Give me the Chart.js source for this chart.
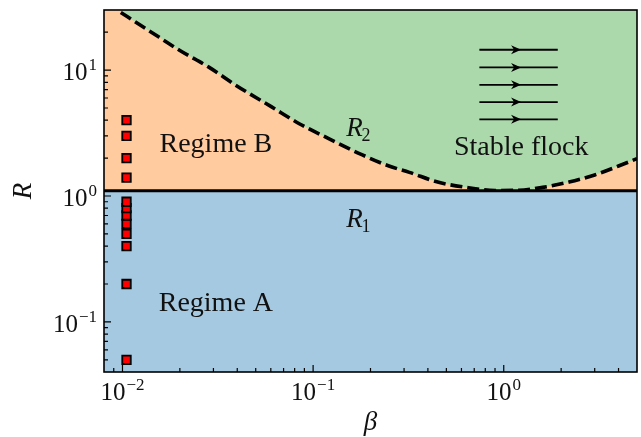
<!DOCTYPE html>
<html>
<head>
<meta charset="utf-8">
<script src="https://cdn.jsdelivr.net/npm/chart.js@4.4.1/dist/chart.umd.min.js"></script>
<style>
  html, body { margin: 0; padding: 0; background: #fff; }
</style>
</head>
<body>
<canvas id="chart" width="641" height="437"></canvas>
<script>
// axis limits
const xRange = [0.008, 5];
const yRange = [0.04, 30];

// R1: horizontal boundary
const r1Value = 1.1;

// R2: dashed boundary
const r2Beta = [0.0098, 0.0125, 0.0156, 0.02, 0.0285, 0.04, 0.06, 0.0846, 0.12, 0.18, 0.25, 0.32, 0.45, 0.635, 0.9, 1.2, 1.6, 2.2, 3.0, 4.0, 5.0];
const r2Values = [28.7, 22.6, 18.2, 14.3, 10.5, 7.45, 5.15, 3.75, 2.87, 2.13, 1.73, 1.54, 1.29, 1.17, 1.105, 1.11, 1.17, 1.29, 1.47, 1.73, 1.98];

// red squares (simulation runs)
const sampleBeta = 0.0105;
const sampleR = [0.05, 0.2, 0.4, 0.5, 0.6, 0.7, 0.8, 0.9, 1.4, 2, 3, 4];

// tick labels
const xTicks = [0.01, 0.1, 1];
const xTickExp = ["\u22122", "\u22121", "0"];
const yTicks = [0.1, 1, 10];
const yTickExp = ["\u22121", "0", "1"];

// flock arrows (beta span and R of each arrow)
const arrowBeta = [0.745, 1.92];
const arrowR = [14.5, 10.5, 7.64, 5.57, 4.06];

const blue = "#a5c9e1";
const orange = "#ffcb9f";
const green = "#abd9ab";
const serif = "'Liberation Serif', 'DejaVu Serif', serif";

function minorTicks(min, max) {
  const out = [];
  for (let e = Math.floor(Math.log10(min)); e <= Math.ceil(Math.log10(max)); e++) {
    for (let k = 1; k < 10; k++) {
      const v = k * Math.pow(10, e);
      if (v > min * 1.001 && v < max * 0.999) out.push({ v, major: k === 1 });
    }
  }
  return out;
}

const decorations = {
  id: "decorations",
  afterDatasetsDraw(chart) {
    const { ctx, chartArea: a, scales: { x, y } } = chart;
    ctx.save();
    ctx.strokeStyle = "#000";
    ctx.fillStyle = "#111";

    // inward ticks
    ctx.lineWidth = 1.2;
    ctx.beginPath();
    minorTicks(xRange[0], xRange[1]).forEach(t => {
      const px = x.getPixelForValue(t.v);
      ctx.moveTo(px, a.bottom);
      ctx.lineTo(px, a.bottom - (t.major ? 7 : 4));
    });
    minorTicks(yRange[0], yRange[1]).forEach(t => {
      const py = y.getPixelForValue(t.v);
      ctx.moveTo(a.left, py);
      ctx.lineTo(a.left + (t.major ? 7 : 4), py);
    });
    ctx.stroke();

    // frame
    ctx.lineWidth = 1.6;
    ctx.strokeRect(a.left, a.top, a.right - a.left, a.bottom - a.top);

    // tick labels with superscript exponents
    const baseFont = "25px " + serif;
    const expFont = "17px " + serif;
    ctx.textBaseline = "alphabetic";
    ctx.textAlign = "left";
    yTicks.forEach((v, i) => {
      const py = y.getPixelForValue(v);
      ctx.font = expFont;
      const we = ctx.measureText(yTickExp[i]).width;
      ctx.font = baseFont;
      const wb = ctx.measureText("10").width;
      const right = a.left - 7;
      ctx.fillText("10", right - we - wb - 1, py + 10);
      ctx.font = expFont;
      ctx.fillText(yTickExp[i], right - we, py);
    });
    xTicks.forEach((v, i) => {
      const px = x.getPixelForValue(v);
      ctx.font = expFont;
      const we = ctx.measureText(xTickExp[i]).width;
      ctx.font = baseFont;
      const wb = ctx.measureText("10").width;
      const start = px - (wb + we + 1) / 2;
      ctx.fillText("10", start, a.bottom + 28);
      ctx.font = expFont;
      ctx.fillText(xTickExp[i], start + wb + 1, a.bottom + 18);
    });

    // axis titles
    ctx.font = "italic 27px " + serif;
    ctx.textAlign = "center";
    ctx.fillText("\u03b2", (a.left + a.right) / 2, 430);
    ctx.save();
    ctx.translate(31, (a.top + a.bottom) / 2);
    ctx.rotate(-Math.PI / 2);
    ctx.fillText("R", 0, 0);
    ctx.restore();

    // region labels
    ctx.font = "28px " + serif;
    ctx.textAlign = "center";
    ctx.fillText("Regime B", x.getPixelForValue(0.0309), y.getPixelForValue(2.22));
    ctx.fillText("Regime A", x.getPixelForValue(0.0309), y.getPixelForValue(0.121));
    ctx.fillText("Stable flock", x.getPixelForValue(1.234), y.getPixelForValue(2.12));

    // R1 / R2 labels
    [["2", 3.01], ["1", 0.565]].forEach(([sub, r]) => {
      const px = x.getPixelForValue(0.149);
      const py = y.getPixelForValue(r);
      ctx.textAlign = "left";
      ctx.font = "italic 27px " + serif;
      ctx.fillText("R", px, py);
      const w = ctx.measureText("R").width;
      ctx.font = "18px " + serif;
      ctx.fillText(sub, px + w - 1, py + 5);
    });

    // arrows
    const x0 = x.getPixelForValue(arrowBeta[0]);
    const x1 = x.getPixelForValue(arrowBeta[1]);
    const tip = (x0 + x1) / 2 + 2.5;
    ctx.lineWidth = 1.8;
    ctx.fillStyle = "#000";
    arrowR.forEach(r => {
      const py = y.getPixelForValue(r);
      ctx.beginPath();
      ctx.moveTo(x0, py);
      ctx.lineTo(x1, py);
      ctx.stroke();
      ctx.beginPath();
      ctx.moveTo(tip, py);
      ctx.lineTo(tip - 10, py - 4.5);
      ctx.lineTo(tip - 7, py);
      ctx.lineTo(tip - 10, py + 4.5);
      ctx.closePath();
      ctx.fill();
    });
    ctx.restore();
  }
};

const r1Line = [{ x: xRange[0], y: r1Value }, { x: xRange[1], y: r1Value }];
const r2Line = r2Beta.map((b, i) => ({ x: b, y: r2Values[i] }));
const samples = sampleR.map(r => ({ x: sampleBeta, y: r }));

new Chart(document.getElementById("chart"), {
  type: "scatter",
  data: {
    datasets: [
      {
        label: "runs",
        data: samples,
        pointStyle: "rect",
        pointRadius: 6,
        backgroundColor: "#ff0000",
        borderColor: "#000",
        borderWidth: 1.8,
        order: 0,
      },
      {
        label: "R1",
        data: r1Line,
        showLine: true,
        borderColor: "#000",
        borderWidth: 3.2,
        pointRadius: 0,
        fill: "start",
        backgroundColor: blue,
        order: 1,
      },
      {
        label: "R2",
        data: r2Line,
        showLine: true,
        borderColor: "#000",
        borderWidth: 3.6,
        borderDash: [12, 5],
        cubicInterpolationMode: "monotone",
        pointRadius: 0,
        fill: "end",
        backgroundColor: green,
        order: 2,
      },
      {
        label: "regime B",
        data: r1Line,
        showLine: true,
        borderWidth: 0,
        pointRadius: 0,
        fill: "end",
        backgroundColor: orange,
        order: 3,
      },
    ],
  },
  options: {
    responsive: false,
    animation: false,
    layout: { autoPadding: false, padding: { top: 10, right: 4, left: 0, bottom: 0 } },
    plugins: {
      legend: { display: false },
      tooltip: { enabled: false },
    },
    scales: {
      x: {
        type: "logarithmic",
        min: xRange[0],
        max: xRange[1],
        grid: { display: false },
        border: { display: false },
        ticks: { display: false },
        afterFit: s => { s.height = 65; },
      },
      y: {
        type: "logarithmic",
        min: yRange[0],
        max: yRange[1],
        grid: { display: false },
        border: { display: false },
        ticks: { display: false },
        afterFit: s => { s.width = 104; },
      },
    },
  },
  plugins: [decorations],
});
</script>
</body>
</html>
